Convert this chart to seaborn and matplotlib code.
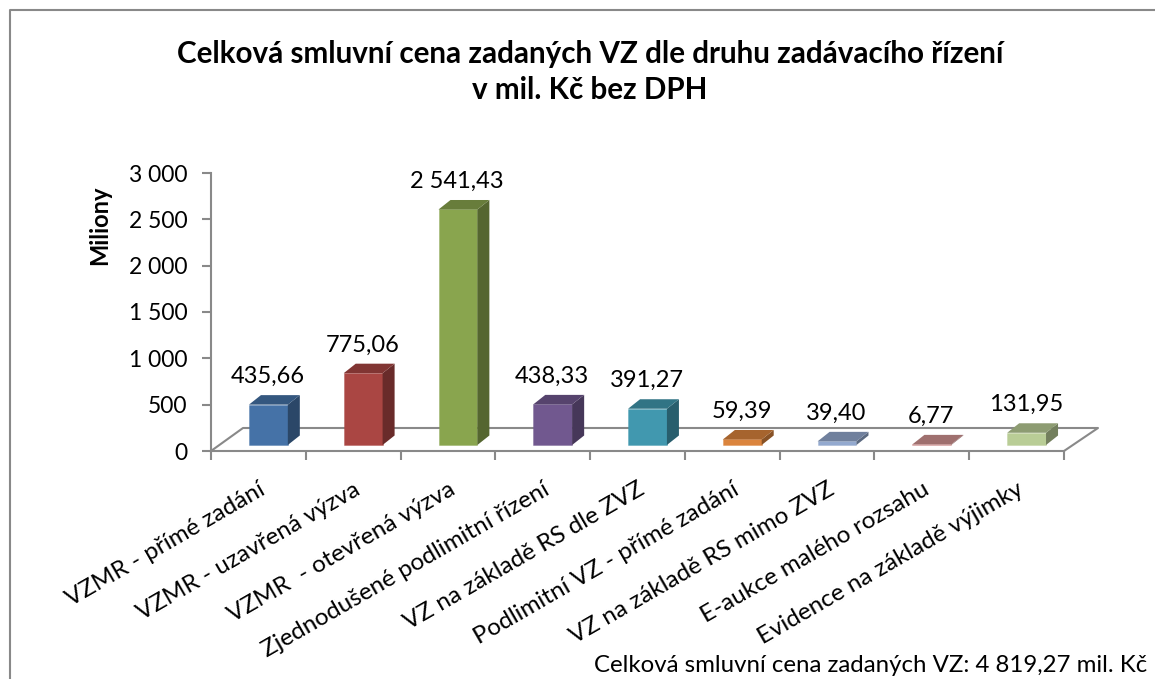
import matplotlib
matplotlib.use('Agg')
import matplotlib.pyplot as plt
from matplotlib.colors import to_rgb
from matplotlib.lines import Line2D
from matplotlib.patches import Polygon
from matplotlib.transforms import Affine2D
import pandas as pd
import seaborn as sns

# Data
categories = ['VZMR - přímé zadání', 'VZMR - uzavřená výzva', 'VZMR  - otevřená výzva',
              'Zjednodušené podlimitní řízení', 'VZ na základě RS dle ZVZ',
              'Podlimitní VZ - přímé zadání', 'VZ na základě RS mimo ZVZ',
              'E-aukce malého rozsahu', 'Evidence na základě výjimky']
values = [435.66, 775.06, 2541.43, 438.33, 391.27, 59.39, 39.40, 6.77, 131.95]
value_labels = ['435,66', '775,06', '2 541,43', '438,33', '391,27', '59,39', '39,40', '6,77', '131,95']
y_ticks = [0, 500, 1000, 1500, 2000, 2500, 3000]
y_tick_labels = ['0', '500', '1 000', '1 500', '2 000', '2 500', '3 000']
colors = ['#4572A7', '#AA4643', '#89A54E', '#71588F', '#4198AF', '#DB843D', '#93A9CF', '#D19392', '#B9CD96']

GREY = '#898989'
W, H = 1155, 679

sns.set_theme(style='white')
plt.rcParams['font.family'] = ['Lato', 'DejaVu Sans']

df = pd.DataFrame({'cat': categories, 'val': values})

fig = plt.figure(figsize=(W / 100, H / 100), dpi=100)
ax = fig.add_axes([211 / W, 1 - 451 / H, (1064 - 211) / W, (451 - 173) / H])
ax.patch.set_alpha(0)

sns.barplot(data=df, x='cat', y='val', hue='cat', palette=colors, legend=False,
            width=0.41, saturation=1, ax=ax, zorder=3)
ax.set_xlim(-0.5, 8.5)
ax.set_ylim(0, 3000)

# bars stand on the floor, a little behind the axis
shift = ax.transData + Affine2D().translate(10, 6)
depth_x = 12 / (ax.bbox.width / 9)
depth_y = 9.5 / (ax.bbox.height / 3000)


def shade(color, k):
    return tuple(c * k for c in to_rgb(color))


for bar, color, label in zip(ax.patches, colors, value_labels):
    x0, w, h = bar.get_x(), bar.get_width(), bar.get_height()
    bar.set_transform(shift)
    bar.set_clip_on(False)
    bar.set_edgecolor(shade(color, 1) + (0.5,))
    bar.set_linewidth(0.5)
    x1 = x0 + w
    side = Polygon([(x1, 0), (x1 + depth_x, depth_y), (x1 + depth_x, h + depth_y), (x1, h)],
                   closed=True, fc=shade(color, 0.62), ec='none', transform=shift, clip_on=False, zorder=3)
    top = Polygon([(x0, h), (x0 + depth_x, h + depth_y), (x1 + depth_x, h + depth_y), (x1, h)],
                  closed=True, fc=shade(color, 0.76), ec='none', transform=shift, clip_on=False, zorder=3)
    ax.add_patch(side)
    ax.add_patch(top)
    ax.annotate(label, xy=(x0 + w / 2, h), xycoords=shift, xytext=(-0.5, 28 * 0.72), textcoords='offset points',
                ha='center', va='center', fontsize=17, color='black', zorder=5)

# floor
fig.add_artist(Line2D([211 / W, 243 / W, 1098 / W, 1064 / W],
                      [1 - 451 / H, 1 - 428 / H, 1 - 428 / H, 1 - 451 / H],
                      color=GREY, lw=1.5, zorder=-1))

# axes
sns.despine(ax=ax)
for s in ['left', 'bottom']:
    ax.spines[s].set_color(GREY)
    ax.spines[s].set_linewidth(1.5)
ax.set_yticks(y_ticks)
ax.set_yticklabels(y_tick_labels, fontsize=16.5, color='black')
ax.tick_params(axis='y', length=6.5, width=1.5, color=GREY, left=True, pad=10.5)
ax.set_xticks([i - 0.5 for i in range(len(categories) + 1)])
ax.set_xticklabels([])
ax.tick_params(axis='x', which='major', length=6.5, width=1.5, color=GREY, bottom=True)
ax.set_xticks(range(len(categories)), minor=True)
ax.set_xticklabels(categories, minor=True, rotation=30, ha='right', rotation_mode='anchor', fontsize=17.5, color='black')
ax.tick_params(axis='x', which='minor', length=0, pad=20)
ax.set_xlabel('')
ax.set_ylabel('')

fig.text(100 / W, 1 - 225 / H, 'Miliony', rotation=90, ha='center', va='center',
         fontsize=17, fontweight='bold', color='black')
fig.text(590 / W, 1 - 72 / H, 'Celková smluvní cena zadaných VZ dle druhu zadávacího řízení\nv mil. Kč bez DPH',
         ha='center', va='center', fontsize=21.3, fontweight='bold', color='black', linespacing=1.33)
fig.text(1147 / W, 1 - 666 / H, 'Celková smluvní cena zadaných VZ: 4 819,27 mil. Kč',
         ha='right', va='center', fontsize=17.3, color='black')

# chart frame
fig.add_artist(Line2D([10 / W, 10 / W, 1155 / W], [0, 1 - 10 / H, 1 - 10 / H], color=GREY, lw=1.5))

fig.savefig('out.png', dpi=100)
